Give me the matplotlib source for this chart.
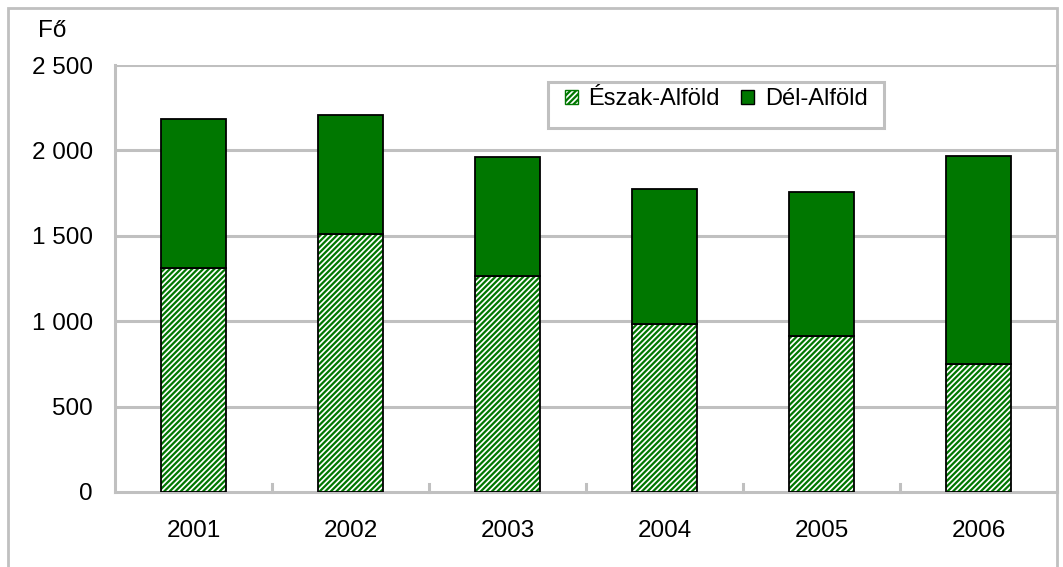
import matplotlib
matplotlib.use("Agg")
import matplotlib.pyplot as plt
import matplotlib.patches as mpatches
import numpy as np

plt.rcParams['font.family'] = ['Liberation Sans', 'DejaVu Sans']
plt.rcParams['hatch.linewidth'] = 1.6

years = ['2001', '2002', '2003', '2004', '2005', '2006']
eszak = [1312, 1510, 1266, 985, 913, 749]
del_alfold = [870, 695, 695, 790, 845, 1220]
series_names = ['Észak-Alföld', 'Dél-Alföld']
yticks = [0, 500, 1000, 1500, 2000, 2500]
ytick_labels = ['0', '500', '1 000', '1 500', '2 000', '2 500']

green = '#007700'
grid = '#c0c0c0'
FS = 17.5

W, H = 1063, 567
fig = plt.figure(figsize=(W / 100, H / 100), dpi=100)
ax = fig.add_axes([115 / W, 1 - 492 / H, (1057 - 115) / W, (492 - 65) / H])

x = np.arange(len(years))
bw = 0.41
b1 = ax.bar(x, eszak, bw, color='white', edgecolor=green, hatch='//////', linewidth=0, zorder=3)
ax.bar(x, eszak, bw, color='none', edgecolor='black', linewidth=1.3, zorder=4)
b2 = ax.bar(x, del_alfold, bw, bottom=eszak, color=green, edgecolor='black', linewidth=1.3, zorder=4)

ax.set_xlim(-0.5, len(years) - 0.5)
ax.set_ylim(0, 2500)
ax.set_yticks(yticks)
ax.set_yticklabels(ytick_labels, fontsize=FS)
ax.set_xticks(x)
ax.set_xticklabels(years, fontsize=FS)
ax.tick_params(axis='x', length=0, pad=20)
ax.tick_params(axis='y', length=0, pad=16)

for y in yticks[1:]:
    ax.axhline(y, color=grid, lw=2.2, zorder=1)

# minor ticks at category boundaries
for b in np.arange(0.5, len(years) - 0.5, 1):
    ax.plot([b, b], [0, 45], color=grid, lw=2.2, zorder=2, clip_on=False)

ax.spines['top'].set_visible(False)
for s in ['left', 'bottom', 'right']:
    ax.spines[s].set_color(grid)
    ax.spines[s].set_linewidth(2.2)

fig.text(38 / W, 1 - 31 / H, 'Fő', fontsize=FS, va='center', ha='left')

# legend box
fig.patches.append(mpatches.Rectangle((548 / W, 1 - 128 / H), (884 - 548) / W, (128 - 82) / H,
                                      transform=fig.transFigure, facecolor='white',
                                      edgecolor=grid, lw=2.2, zorder=5))
leg = fig.legend([b1, b2], series_names, ncol=2, loc='center left',
                 bbox_to_anchor=(565 / W, 1 - 99 / H),
                 fontsize=17, frameon=False, borderpad=0,
                 handlelength=0.55, handleheight=0.55, handletextpad=0.45,
                 columnspacing=0.9, borderaxespad=0)
leg.set_zorder(6)
for h in leg.legend_handles:
    h.set_edgecolor('black')
    h.set_linewidth(1)
leg.legend_handles[0].set_edgecolor(green)

# outer border
fig.patches.append(mpatches.Rectangle((8 / W, -0.05), (1057 - 8) / W, 1 - 8 / H + 0.05,
                                      transform=fig.transFigure, fill=False,
                                      edgecolor=grid, lw=2, zorder=0))

fig.savefig('out.png', dpi=100)
